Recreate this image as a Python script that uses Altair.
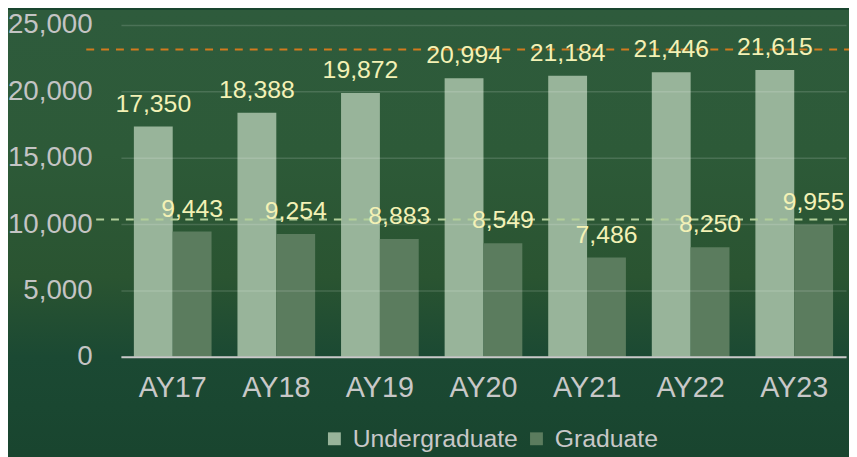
import altair as alt
import pandas as pd

years = ["AY17", "AY18", "AY19", "AY20", "AY21", "AY22", "AY23"]
undergrad = [17350, 18388, 19872, 20994, 21184, 21446, 21615]
grad = [9443, 9254, 8883, 8549, 7486, 8250, 9955]
series = ["Undergraduate", "Graduate"]
ug_target = 23150
gr_target = 10350

rows = []
for y, u, g in zip(years, undergrad, grad):
    rows.append({"year": y, "series": series[0], "value": u})
    rows.append({"year": y, "series": series[1], "value": g})
df = pd.DataFrame(rows)

FONT = "Liberation Sans"
W, H = 732, 335
PT, PB = 15, 99

x_axis = alt.Axis(labelFontSize=29, labelColor="#c8c8c8", labelFont=FONT,
                  tickSize=0, labelPadding=17, domainColor="#c9c9c9",
                  domainWidth=2, labelAngle=0, zindex=1, grid=False)
x_scale = alt.Scale(paddingInner=0.25, paddingOuter=0.125)
y_axis = alt.Axis(values=[0, 5000, 10000, 15000, 20000, 25000], format=",d",
                  labelFontSize=28, labelColor="#c4c4c4", labelFont=FONT,
                  tickSize=0, labelPadding=29, domain=False, grid=True,
                  gridColor="#ffffff", gridOpacity=0.14, gridWidth=1.5, zindex=1)
y_scale = alt.Scale(domain=[0, 25000], nice=False)

x_enc = alt.X("year:N", sort=years, title=None, scale=x_scale, axis=x_axis)
y_enc = alt.Y("value:Q", title=None, scale=y_scale, axis=y_axis)
xo = alt.XOffset("series:N", sort=series, scale=alt.Scale(paddingInner=0, paddingOuter=0))

grad_fill = alt.LinearGradient(
    gradient="linear", x1=0, x2=0, y1=0, y2=1,
    stops=[alt.GradientStop(offset=0, color="#2e5b3c"),
           alt.GradientStop(offset=0.32, color="#2d5a38"),
           alt.GradientStop(offset=0.6, color="#2a5431"),
           alt.GradientStop(offset=0.78, color="#1b4933"),
           alt.GradientStop(offset=1, color="#19452f")])

bg = alt.Chart(pd.DataFrame({"a": [0]})).mark_rect(fill=grad_fill).encode(
    x=alt.value(-114), x2=alt.value(W + 3), y=alt.value(-PT), y2=alt.value(H + PB))

bars = alt.Chart(df).mark_bar().encode(
    x=x_enc, y=y_enc, xOffset=xo,
    color=alt.Color("series:N", sort=series,
                    scale=alt.Scale(domain=series, range=["#98b49a", "#5b7c5e"]),
                    legend=alt.Legend(title=None, orient="none", direction="horizontal",
                                      legendX=203, legendY=405, symbolType="square",
                                      symbolSize=169, symbolStrokeWidth=0,
                                      labelFontSize=25, labelFont=FONT, labelLimit=400,
                                      labelColor="#c8c8c8", labelOffset=6,
                                      columnPadding=6, padding=0)))

orange = alt.Chart(pd.DataFrame({"a": [0]})).mark_rule(
    color="#d27a1e", strokeWidth=2, strokeDash=[8, 7]).encode(
    y=alt.YDatum(ug_target, type="quantitative", scale=y_scale, axis=y_axis, title=None),
    x=alt.value(-35), x2=alt.value(W + 3))
green = alt.Chart(pd.DataFrame({"a": [0]})).mark_rule(
    color="#b3cf9a", strokeWidth=2, strokeDash=[8, 7]).encode(
    y=alt.YDatum(gr_target, type="quantitative", scale=y_scale, axis=y_axis, title=None),
    x=alt.value(-25), x2=alt.value(W + 3))

labels = alt.Chart(df).mark_text(
    fontSize=25, font=FONT, color="#f3f1b5", baseline="alphabetic", dy=-15).encode(
    x=x_enc, y=y_enc, xOffset=xo,
    text=alt.Text("value:Q", format=","))

chart = alt.layer(bg, bars, green, orange, labels).properties(
    width=W, height=H,
    padding={"left": 114, "top": PT, "right": 3, "bottom": PB},
    autosize="none", background="#19452f"
).configure_view(stroke=None)

chart.save("out.html", embed_options={"renderer": "svg", "actions": False})
